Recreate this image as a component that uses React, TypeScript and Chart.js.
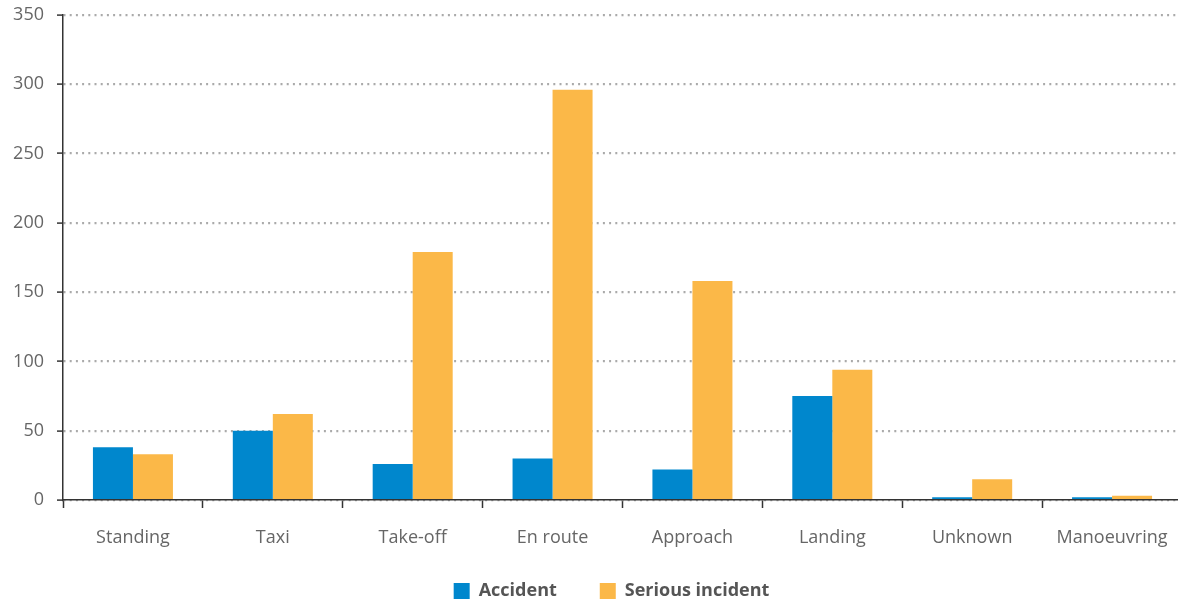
import React, { useEffect, useRef } from "react";
import { Chart, registerables } from "chart.js";

Chart.register(...registerables);

const categories = ["Standing", "Taxi", "Take-off", "En route", "Approach", "Landing", "Unknown", "Manoeuvring"];
const accident = [38, 50, 26, 30, 22, 75, 2, 2];
const seriousIncident = [33, 62, 179, 296, 158, 94, 15, 3];
const yTicks = [0, 50, 100, 150, 200, 250, 300, 350];

const BLUE = "#0087CD";
const ORANGE = "#FBB848";

const adjustLayout = {
  id: "adjustLayout",
  afterLayout(chart: any) {
    const x = chart.scales.x;
    if (x) {
      x.right = chart.width + 4;
      x.width = x.right - x.left;
      x.configure();
      x.bottom = chart.height;
    }
    const lg = chart.legend;
    if (lg) {
      lg.left -= 18;
    }
  },
};

export default function App() {
  const ref = useRef<HTMLCanvasElement | null>(null);
  useEffect(() => {
    const canvas = ref.current;
    if (!canvas) return;
    const chart = new Chart(canvas, {
      type: "bar",
      data: {
        labels: categories,
        datasets: [
          { label: "Accident", data: accident, backgroundColor: BLUE, borderWidth: 0 },
          { label: "Serious incident", data: seriousIncident, backgroundColor: ORANGE, borderWidth: 0 },
        ],
      },
      plugins: [adjustLayout],
      options: {
        animation: false,
        responsive: false,
        maintainAspectRatio: false,
        layout: { padding: { top: 15, right: 0, left: 0, bottom: -8 } },
        datasets: { bar: { categoryPercentage: 0.572, barPercentage: 1 } },
        plugins: {
          tooltip: { enabled: false },
          legend: {
            position: "bottom",
            fullSize: false,
            labels: {
              boxWidth: 16,
              boxHeight: 16,
              padding: 43,
              color: "#555",
              font: { family: "'Open Sans', sans-serif", size: 18, weight: "bold" },
            },
          },
        },
        scales: {
          x: {
            grid: {
              offset: true,
              drawOnChartArea: false,
              drawTicks: true,
              tickLength: 8,
              tickColor: "#333",
              tickWidth: 1.5,
            },
            border: { color: "#333", width: 1.5 },
            ticks: {
              color: "#666",
              padding: 19,
              font: { family: "'Open Sans', sans-serif", size: 18 },
            },
            afterFit: (s: any) => {
              s.height = 39;
              s.paddingLeft = 0;
              s.paddingRight = 0;
            },
          },
          y: {
            min: 0,
            max: 350,
            afterBuildTicks: (s: any) => {
              s.ticks = yTicks.map((v) => ({ value: v }));
            },
            grid: {
              color: "#aaa",
              lineWidth: 2.2,
              tickColor: "#333",
              tickLength: 6,
              tickWidth: 1.5,
              tickBorderDash: [],
            },
            border: { color: "#333", width: 1.5, dash: [2, 4.2] },
            ticks: {
              color: "#666",
              padding: 13,
              font: { family: "'Open Sans', sans-serif", size: 18 },
            },
            afterFit: (s: any) => {
              s.width = 63;
              s.paddingTop = 0;
              s.paddingBottom = 0;
            },
          },
        },
      },
    });
    return () => chart.destroy();
  }, []);
  return (
    <div style={{ position: "absolute", left: 0, top: 0, width: 1178, height: 602 }}>
      <canvas ref={ref} width={1178} height={602} style={{ width: 1178, height: 602 }} />
    </div>
  );
}
